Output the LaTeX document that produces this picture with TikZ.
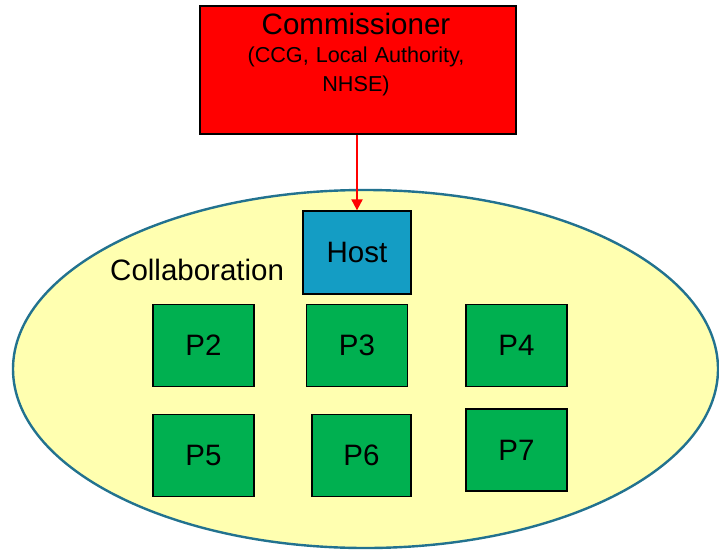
\documentclass[tikz,border=0pt]{standalone}
\usepackage{fontspec}
\setmainfont{Liberation Sans}
\usetikzlibrary{shapes.geometric,arrows.meta}
\definecolor{commred}{HTML}{FF0000}
\definecolor{hostblue}{HTML}{149DC4}
\definecolor{pgreen}{HTML}{00B050}
\definecolor{ellfill}{HTML}{FFFFB0}
\definecolor{elledge}{HTML}{22728F}
\tikzset{
  box/.style={rectangle, draw=black, line width=1.3pt, inner sep=0pt},
  bigfont/.style={font=\fontsize{29.5}{30}\selectfont},
  pbox/.style={box, fill=pgreen, minimum width=101pt, minimum height=82pt, bigfont},
  arr/.style={draw=commred, line width=2pt, -{Triangle[length=11pt,width=11pt]}},
}
\begin{document}
\begin{tikzpicture}[x=1pt,y=-1pt]
\useasboundingbox (0,0) rectangle (719,551);
\node[ellipse, draw=elledge, fill=ellfill, line width=2.4pt, minimum width=705pt, minimum height=358pt, inner sep=0pt] (collab) at (365.5,369) {};
\node[anchor=base west, inner sep=0pt, bigfont] (collabtext) at (110,280) {Collaboration};
\node[box, fill=commred, minimum width=316pt, minimum height=128pt] (comm) at (358,70) {};
\node[anchor=base, inner sep=0pt, text width=300pt, align=center, font=\fontsize{21.6}{28}\selectfont] (commtext) at (356,35)
  {{\fontsize{29.5}{28}\selectfont Commissioner}\\ (CCG, Local Authority,\\ NHSE)};
\node[box, fill=hostblue, minimum width=108pt, minimum height=83pt, bigfont] (host) at (357,252.5) {Host};
\node[pbox] (p2) at (203.5,345.5) {P2};
\node[pbox] (p3) at (357,345.5) {P3};
\node[pbox] (p4) at (516.5,345.5) {P4};
\node[pbox] (p5) at (203.5,455.5) {P5};
\node[pbox, minimum width=99pt] (p6) at (361.5,455.5) {P6};
\node[pbox] (p7) at (516.5,450) {P7};
\draw[arr] (comm.south -| host.north) -- (host.north);
\end{tikzpicture}
\end{document}
